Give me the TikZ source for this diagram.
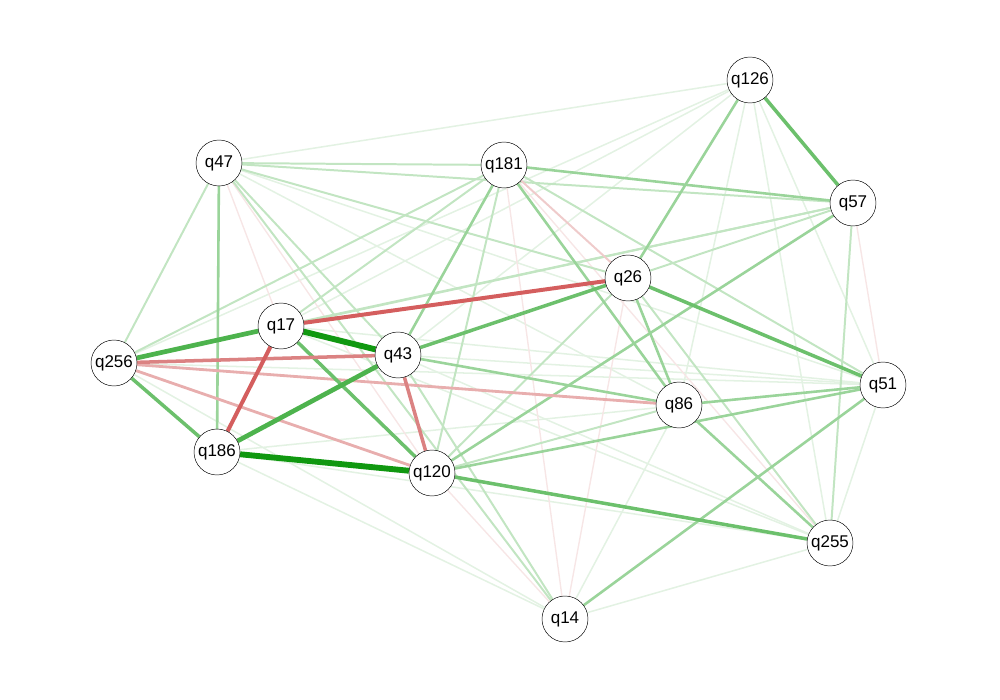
\documentclass[tikz,border=0pt]{standalone}
\usepackage{fontspec}
\setmainfont{Liberation Sans}
\usepackage{tikz}
\usetikzlibrary{backgrounds}

\definecolor{gfive}{HTML}{109810}
\definecolor{gfour}{HTML}{4DB34D}
\definecolor{gthree}{HTML}{6CC06C}
\definecolor{gtwo}{HTML}{9AD49A}
\definecolor{gone}{HTML}{C2E5C2}
\definecolor{gzero}{HTML}{E3F2E3}
\definecolor{rfour}{HTML}{D45E5E}
\definecolor{rthree}{HTML}{DB8282}
\definecolor{rtwo}{HTML}{E8AEAE}
\definecolor{rone}{HTML}{EFCBCB}
\definecolor{rzero}{HTML}{F7E6E6}

\tikzset{
    item/.style={circle, draw, thin, fill=white, minimum size=1.38cm, inner sep=0pt,
                 font=\fontsize{14.5}{16}\selectfont},
    G5/.style={gfive, line width=5pt},
    G4/.style={gfour, line width=4pt},
    G3/.style={gthree, line width=3pt},
    G2/.style={gtwo, line width=2.2pt},
    G1/.style={gone, line width=1.7pt},
    G0/.style={gzero, line width=1.3pt},
    R4/.style={rfour, line width=3.4pt},
    R3/.style={rthree, line width=3pt},
    R2/.style={rtwo, line width=2.4pt},
    R1/.style={rone, line width=1.7pt},
    R0/.style={rzero, line width=1.2pt}
}

\begin{document}
\begin{tikzpicture}[x=0.03cm, y=-0.03cm]
    \useasboundingbox (0,0) rectangle (1000,700);

    % --- 节点 ---
    \node[item] (q126) at (750, 80)  {q126};
    \node[item] (q47)  at (219, 163) {q47};
    \node[item] (q181) at (504, 165) {q181};
    \node[item] (q57)  at (853, 203) {q57};
    \node[item] (q26)  at (628, 278) {q26};
    \node[item] (q17)  at (281, 326) {q17};
    \node[item] (q43)  at (398, 355) {q43};
    \node[item] (q256) at (114, 363) {q256};
    \node[item] (q51)  at (883, 385) {q51};
    \node[item] (q86)  at (679, 405) {q86};
    \node[item] (q186) at (217, 452) {q186};
    \node[item] (q120) at (432, 473) {q120};
    \node[item] (q255) at (830, 543) {q255};
    \node[item] (q14)  at (565, 619) {q14};

    \begin{pgfonlayer}{background}
        % 弱边 (先画)
        \foreach \a/\b in {q126/q47, q126/q256, q126/q17, q126/q86, q126/q255, q126/q51,
                           q14/q186, q14/q256, q14/q255, q14/q86, q51/q255, q47/q51,
                           q43/q255, q17/q255, q186/q51, q186/q255, q256/q51, q17/q51,
                           q126/q43, q47/q86, q43/q51}
            \draw[G0] (\a) -- (\b);
        \foreach \a/\b in {q14/q120, q14/q26, q14/q181, q47/q120, q47/q17, q57/q51, q181/q255}
            \draw[R0] (\a) -- (\b);
        \foreach \a/\b in {q47/q181, q47/q57, q181/q120, q57/q255, q57/q26, q47/q43,
                           q14/q47, q256/q47, q256/q181, q256/q57, q17/q181, q17/q57,
                           q47/q26, q181/q51, q26/q255, q86/q120, q26/q120, q14/q43}
            \draw[G1] (\a) -- (\b);
        \draw[R1] (q181) -- (q26);

        % 中等边
        \foreach \a/\b in {q47/q186, q181/q43, q181/q86, q26/q86, q181/q57, q126/q26,
                           q120/q51, q86/q51, q86/q255, q14/q51, q43/q86, q57/q120}
            \draw[G2] (\a) -- (\b);
        \draw[R2] (q256) -- (q120);
        \draw[R2] (q256) -- (q86);

        % 强边
        \foreach \a/\b in {q17/q120, q256/q186, q43/q26, q26/q51, q126/q57, q120/q255}
            \draw[G3] (\a) -- (\b);
        \draw[R3] (q256) -- (q43);
        \draw[R3] (q43) -- (q120);
        \draw[R4] (q17) -- (q26);
        \draw[R4] (q17) -- (q186);
        \draw[G4] (q256) -- (q17);
        \draw[G4] (q186) -- (q43);
        \draw[G5] (q17) -- (q43);
        \draw[G5] (q186) -- (q120);
    \end{pgfonlayer}

\end{tikzpicture}
\end{document}
